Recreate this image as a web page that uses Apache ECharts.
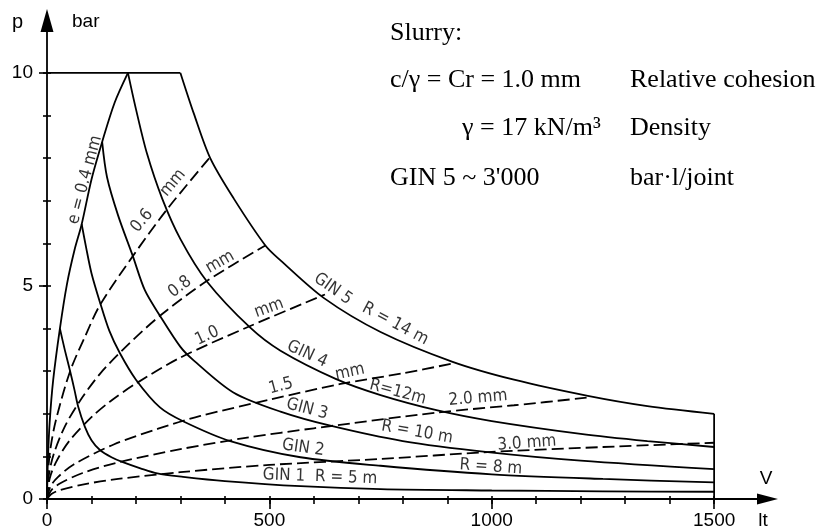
<!DOCTYPE html>
<html><head><meta charset="utf-8">
<script src="https://cdn.jsdelivr.net/npm/echarts@6/dist/echarts.min.js"></script>
<style>html,body{margin:0;padding:0;background:#fff}#c{width:817px;height:531px}</style>
</head><body><div id="c"></div>
<script>
// ---- axis ticks / labels ----
const xTickLabels = [0, 500, 1000, 1500];
const xMinorTicks = [0,100,200,300,400,500,600,700,800,900,1000,1100,1200,1300,1400,1500];
const yTickLabels = [0, 5, 10];
const yMinorTicks = [0,1,2,3,4,5,6,7,8,9,10];

// ---- solid curves: [V (lt), p (bar)] ----
const gin5Top = [[0,10],[300,10]];
const gin5 = [[300,10],[330,9.05],[367,8.0],[420,7.05],[491,5.95],[525,5.6],[622,4.72],[750,3.92],[912,3.22],[1050,2.8],[1216,2.42],[1350,2.18],[1500,2.0]];
const gin5End = [[1500,2.0],[1500,0]];
const gin4 = [[182,10],[200,9.15],[225,8.1],[259,7.05],[300,6.1],[360,5.1],[457,4.02],[525,3.48],[649,2.82],[750,2.44],[878,2.08],[1000,1.83],[1200,1.53],[1350,1.36],[1500,1.22]];
const gin3 = [[124,8.38],[135,7.55],[160,6.65],[193,5.7],[220,4.9],[254,4.3],[300,3.57],[329,3.26],[419,2.5],[525,2.05],[637,1.72],[800,1.36],[991,1.1],[1200,0.9],[1500,0.70]];
const gin2 = [[78,6.45],[88,5.9],[100,5.3],[119,4.62],[140,3.95],[164,3.42],[200,2.8],[254,2.15],[307,1.82],[412,1.36],[570,0.98],[750,0.78],[1000,0.58],[1250,0.47],[1500,0.39]];
const gin1 = [[29,4.0],[40,3.5],[52,3.0],[62,2.55],[70,2.17],[85,1.7],[100,1.38],[119,1.15],[145,0.98],[169,0.87],[210,0.72],[248,0.6],[306,0.52],[400,0.42],[570,0.3],[750,0.23],[1000,0.2],[1250,0.18],[1500,0.17]];
const e04 = [[0,0],[2,0.9],[6,1.8],[14,2.8],[29,4.0],[45,5.05],[62,5.85],[78,6.45],[100,7.5],[124,8.38],[152,9.3],[182,10]];

// ---- dashed curves (aperture e) ----
const e06 = [[0,0],[2,0.6],[8,1.2],[20,1.85],[52,3.0],[85,3.8],[119,4.55],[193,5.7],[270,6.8],[365,8.0]];
const e08 = [[0,0],[4,0.55],[15,1.05],[40,1.7],[74,2.3],[120,2.95],[180,3.6],[254,4.3],[360,5.12],[491,5.95]];
const e10 = [[0,0],[6,0.48],[20,0.86],[50,1.36],[100,1.92],[142,2.29],[200,2.71],[300,3.32],[457,4.06],[625,4.8]];
const e15 = [[0,0],[8,0.3],[25,0.52],[60,0.81],[150,1.28],[250,1.65],[345,1.95],[500,2.33],[660,2.7],[800,2.95],[912,3.18]];
const e20 = [[0,0],[10,0.21],[30,0.37],[80,0.61],[160,0.86],[300,1.17],[450,1.44],[600,1.66],[878,2.03],[1050,2.2],[1216,2.38]];
const e30 = [[0,0],[10,0.12],[30,0.21],[80,0.34],[160,0.47],[300,0.63],[500,0.8],[750,0.94],[991,1.1],[1250,1.22],[1500,1.32]];

// ---- curve labels ----
const curveLabelTexts = ['e = 0.4 mm','0.6','mm','0.8','mm','1.0','mm','1.5','mm','2.0 mm','3.0 mm',
  'GIN 5','R = 14 m','GIN 4','R=12m','GIN 3','R = 10 m','GIN 2','R = 8 m','GIN 1  R = 5 m'];
const curveLabelAnchors = [[85.5,7.49],[213.6,6.53],[283,7.42],[299,4.98],[389,5.56],[360,3.83],[499,4.48],[526,2.65],[681,2.98],[969,2.37],[1079,1.31],
  [643,4.93],[783,4.11],[585,3.40],[789,2.51],[585,2.11],[832,1.57],[576,1.20],[998,0.75],[614,0.52]];
const curveLabelAngles = [75,50,50,37,30,25,20,15,12,5,4,-35,-28,-25,-15,-15,-10,-8,-4,-2];

const SANS = '"Liberation Sans Narrow","DejaVu Sans Condensed","Liberation Sans",sans-serif';
const TICKFONT = '"Liberation Sans",sans-serif';
const SERIF = '"Liberation Serif","Times New Roman",serif';

const chart = echarts.init(document.getElementById('c'), null, {renderer:'canvas'});
const lineW = 1.8;
function solid(data, smooth){
  return {type:'line', data:data, symbol:'none', smooth: smooth ? 0.3 : false,
    lineStyle:{color:'#000', width:lineW}, silent:true, clip:false, z:3, animation:false};
}
function dashed(data){
  return {type:'line', data:data, symbol:'none', smooth:0.3,
    lineStyle:{color:'#000', width:lineW, type:[12,5]}, silent:true, clip:false, z:3, animation:false};
}
const xMax = 1620, yMax = 11.23;
const tickStyle = {color:'#000', width:1.6};
const baseX = {type:'value', min:0, max:xMax, gridIndex:0, position:'bottom', splitLine:{show:false}};
const baseY = {type:'value', min:0, max:yMax, gridIndex:0, position:'left', splitLine:{show:false}};

chart.setOption({
  animation:false,
  backgroundColor:'#fff',
  grid:{left:47, right:49.5, top:20.5, bottom:32, containLabel:false},
  xAxis:[
    Object.assign({}, baseX, {interval:500,
      axisLine:{show:true, onZero:false, lineStyle:{color:'#000', width:lineW}, symbol:['none','triangle'], symbolSize:[11,21]},
      axisTick:{show:true, customValues:xTickLabels, length:10, inside:false, lineStyle:tickStyle},
      axisLabel:{show:true, customValues:xTickLabels, margin:12, fontSize:19, color:'#000', fontFamily:TICKFONT,
        formatter:function(v){return v<=1500 ? String(v) : '';}}}),
    Object.assign({}, baseX, {interval:100, axisLine:{show:false, onZero:false},
      axisTick:{show:true, customValues:xMinorTicks, length:5, inside:false, lineStyle:tickStyle}, axisLabel:{show:false}}),
    Object.assign({}, baseX, {interval:100, axisLine:{show:false, onZero:false},
      axisTick:{show:true, customValues:xMinorTicks, length:3, inside:true, lineStyle:tickStyle}, axisLabel:{show:false}})
  ],
  yAxis:[
    Object.assign({}, baseY, {interval:5,
      axisLine:{show:true, onZero:false, lineStyle:{color:'#000', width:lineW}, symbol:['none','triangle'], symbolSize:[13,23]},
      axisTick:{show:true, customValues:yTickLabels, length:8, inside:false, lineStyle:tickStyle},
      axisLabel:{show:true, customValues:yTickLabels, margin:14, fontSize:19, color:'#000', fontFamily:TICKFONT,
        formatter:function(v){return v<=10 ? String(v) : '';}}}),
    Object.assign({}, baseY, {interval:1, axisLine:{show:false, onZero:false},
      axisTick:{show:true, customValues:yMinorTicks, length:4, inside:false, lineStyle:tickStyle}, axisLabel:{show:false}}),
    Object.assign({}, baseY, {interval:1, axisLine:{show:false, onZero:false},
      axisTick:{show:true, customValues:yMinorTicks, length:4, inside:true, lineStyle:tickStyle}, axisLabel:{show:false}})
  ],
  series:[
    solid(gin5Top,false), solid(gin5,true), solid(gin5End,false),
    solid(gin4,true), solid(gin3,true), solid(gin2,true), solid(gin1,true), solid(e04,true),
    dashed(e06), dashed(e08), dashed(e10), dashed(e15), dashed(e20), dashed(e30),
    {type:'scatter', symbol:'circle', symbolSize:1, itemStyle:{color:'rgba(0,0,0,0)'}, silent:true, z:6, animation:false,
      data: curveLabelTexts.map(function(t,i){ return {name:t, value:curveLabelAnchors[i], label:{rotate:curveLabelAngles[i]}}; }),
      label:{show:true, position:'inside', formatter:'{b}', fontSize:17, color:'#000', fontFamily:SANS}}
  ],
  graphic:[
    {type:'text', x:12, y:22, style:{text:'p', font:'20px '+TICKFONT, fill:'#000', textAlign:'left', textVerticalAlign:'middle', verticalAlign:'middle'}},
    {type:'text', x:72, y:22, style:{text:'bar', font:'19px '+TICKFONT, fill:'#000', textAlign:'left', textVerticalAlign:'middle', verticalAlign:'middle'}},
    {type:'text', x:766, y:479, style:{text:'V', font:'19px '+TICKFONT, fill:'#000', textAlign:'center', textVerticalAlign:'middle', verticalAlign:'middle'}},
    {type:'text', x:763, y:521, style:{text:'lt', font:'19px '+TICKFONT, fill:'#000', textAlign:'center', textVerticalAlign:'middle', verticalAlign:'middle'}},
    {type:'text', x:390, y:33, style:{text:'Slurry:', font:'26px '+SERIF, fill:'#000', textAlign:'left', textVerticalAlign:'middle', verticalAlign:'middle'}},
    {type:'text', x:390, y:80, style:{text:'c/γ = Cr = 1.0 mm', font:'26px '+SERIF, fill:'#000', textAlign:'left', textVerticalAlign:'middle', verticalAlign:'middle'}},
    {type:'text', x:630, y:80, style:{text:'Relative cohesion', font:'26px '+SERIF, fill:'#000', textAlign:'left', textVerticalAlign:'middle', verticalAlign:'middle'}},
    {type:'text', x:462, y:128, style:{text:'γ = 17 kN/m³', font:'26px '+SERIF, fill:'#000', textAlign:'left', textVerticalAlign:'middle', verticalAlign:'middle'}},
    {type:'text', x:630, y:128, style:{text:'Density', font:'26px '+SERIF, fill:'#000', textAlign:'left', textVerticalAlign:'middle', verticalAlign:'middle'}},
    {type:'text', x:390, y:178, style:{text:"GIN 5 ~ 3'000", font:'26px '+SERIF, fill:'#000', textAlign:'left', textVerticalAlign:'middle', verticalAlign:'middle'}},
    {type:'text', x:630, y:178, style:{text:'bar·l/joint', font:'26px '+SERIF, fill:'#000', textAlign:'left', textVerticalAlign:'middle', verticalAlign:'middle'}}
  ]
});
</script></body></html>
